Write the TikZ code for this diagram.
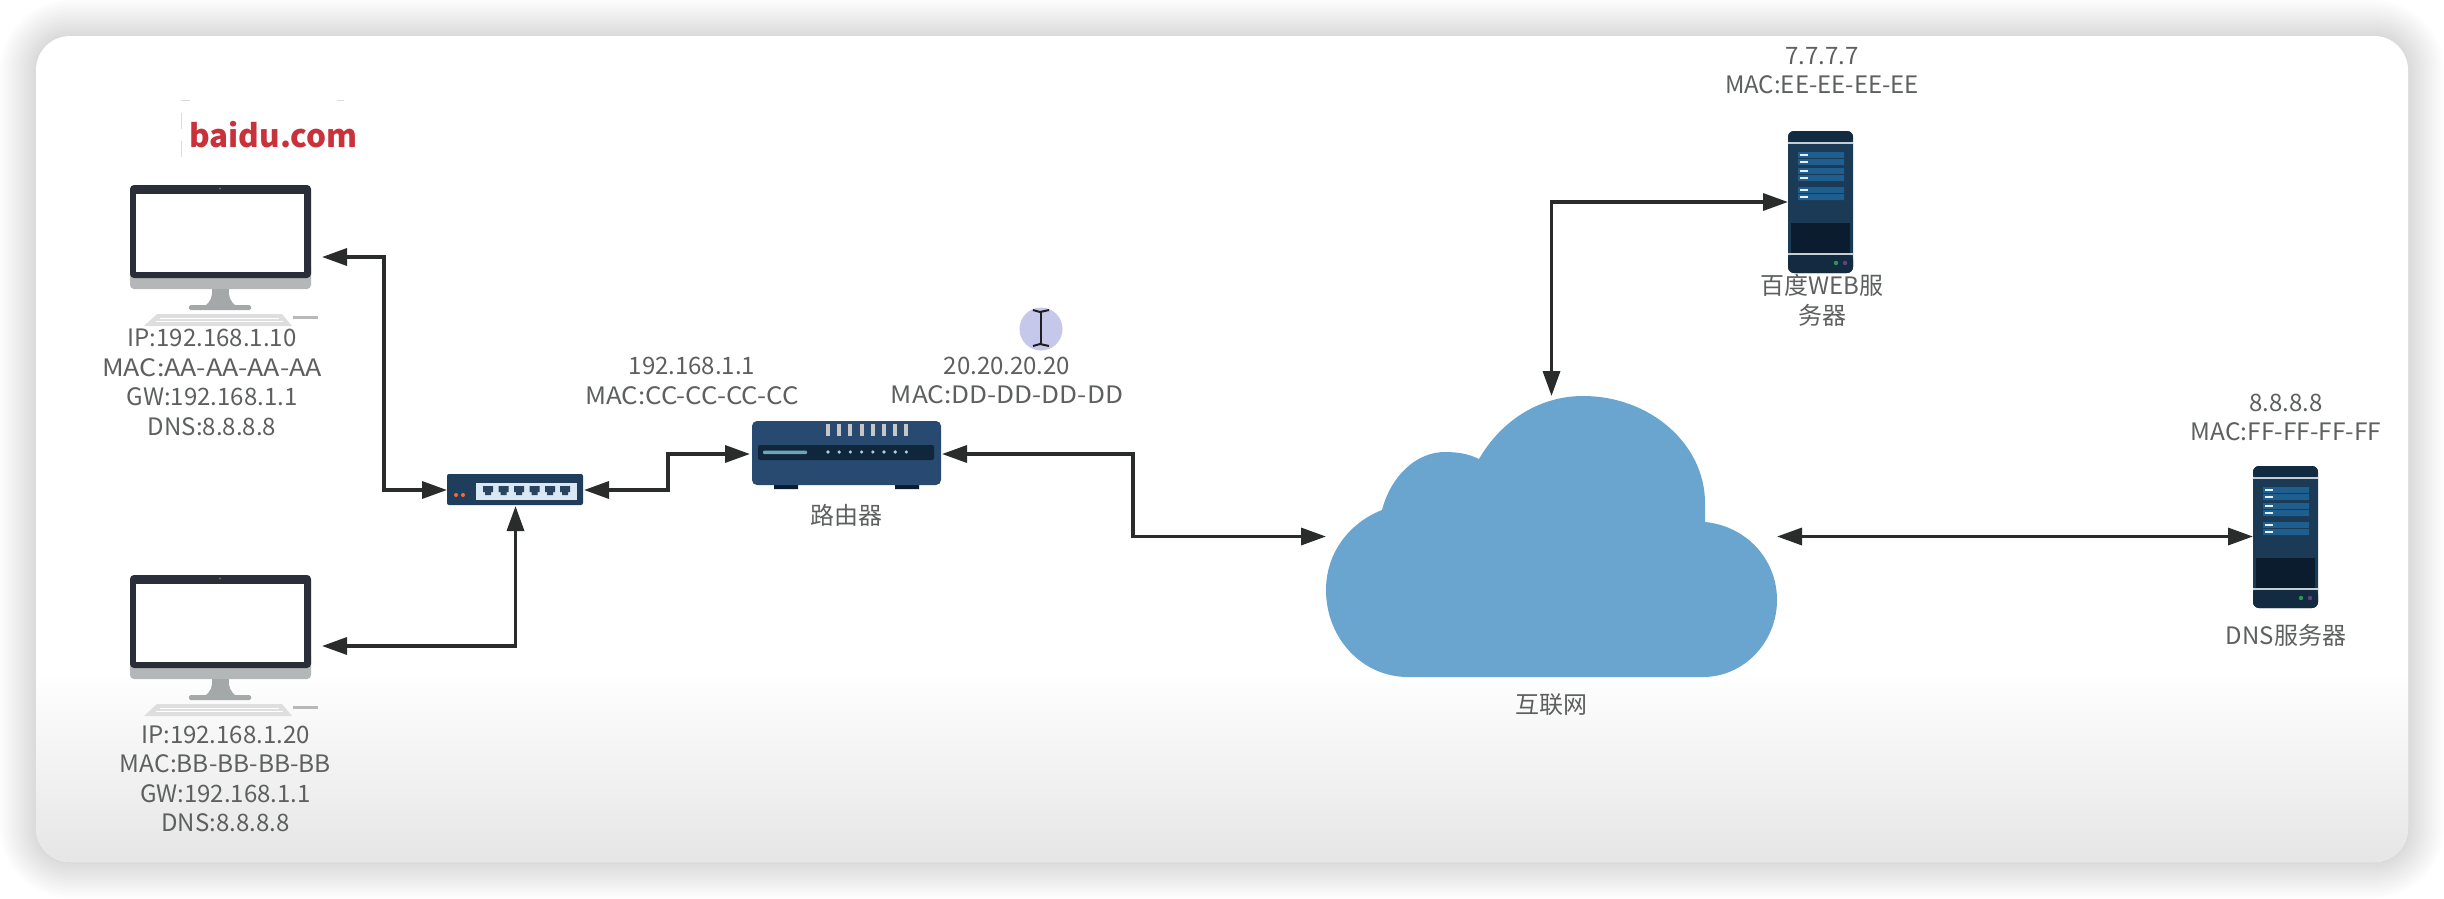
\documentclass[tikz,border=0pt]{standalone}
\usepackage{fontspec}
\setmainfont{Noto Sans CJK SC}
\usetikzlibrary{arrows.meta,calc}
\definecolor{txt}{HTML}{5E6060}
\definecolor{linkc}{HTML}{2A2C2C}
\definecolor{framec}{HTML}{2A2E38}
\definecolor{chinc}{HTML}{B4B7B7}
\definecolor{navy}{HTML}{1A3A55}
\definecolor{navyd}{HTML}{132B40}
\definecolor{navyk}{HTML}{0A1C2E}
\definecolor{barc}{HTML}{1F5F90}
\definecolor{routerc}{HTML}{284A70}
\definecolor{cloudc}{HTML}{69A5CF}
\definecolor{portc}{HTML}{D9E8F5}
\definecolor{rbar}{HTML}{6FA5B5}
\definecolor{rdot}{HTML}{A8D0DC}
\definecolor{curc}{HTML}{C5C8EA}
\definecolor{bdred}{HTML}{C9323A}
\newcommand{\hwide}[2]{\scalebox{#1}[1]{#2}}
\tikzset{
  x=1pt,y=-1pt,
  lbl/.style={inner sep=0pt,text=txt,align=center,font=\fontsize{24}{29.5}\selectfont},
  devbox/.style={inner sep=0pt,outer sep=0pt,minimum width=#1},
  link/.style={draw=linkc,line width=3.4pt,{Triangle[length=25pt,width=17pt]}-{Triangle[length=25pt,width=17pt]}},
}
\newcommand{\pcicon}[2]{%
  \begin{scope}[shift={(#1,#2)}]
    \fill[chinc,rounded corners=4pt] (130,262) rectangle (311,289);
    \fill[framec,rounded corners=4pt] (130,185) -- (311,185) -- (311,278) -- (130,278) -- cycle;
    \fill[white] (136,194) rectangle (304,272);
    \fill[black!60] (220,188.5) circle (1.2pt);
    \fill[chinc!92!black] (212,289) .. controls (213,297) and (210,302) .. (205,306) -- (236,306) .. controls (231,302) and (228,297) .. (229,289) -- cycle;
    \fill[chinc!92!black,rounded corners=1.5pt] (189,305) rectangle (251,310);
    \fill[black!13] (157,314) -- (282,314) -- (292,326) -- (144,326) -- cycle;
    \draw[white,line width=1pt] (160,318) -- (279,318) (156,321.5) -- (283,321.5);
    \fill[black!28] (293,316) rectangle (318,319);
  \end{scope}}
\newcommand{\srvicon}[2]{%
  \begin{scope}[shift={(#1,#2)}]
    \fill[navy,rounded corners=6pt] (0,0) rectangle (65,142);
    \fill[navyd,rounded corners=6pt] (0,0) rectangle (65,12);
    \fill[navyd,rounded corners=6pt] (0,123) rectangle (65,142);
    \fill[navyk] (3,92) rectangle (62,123);
    \draw[white!75!navy,line width=1.2pt] (0,12) -- (65,12) (0,123) -- (65,123);
    \fill[barc] (10,21) rectangle (56,34) (10,37) rectangle (56,50) (10,56) rectangle (56,69);
    \draw[navy,line width=.8pt] (10,27.5) -- (56,27.5) (10,43.5) -- (56,43.5) (10,62.5) -- (56,62.5);
    \foreach \ty in {24,31,40,47,59,66}{\draw[white!90!barc,line width=1.4pt] (12,\ty) -- (20,\ty);}
    \fill[green!35!navy!85!white] (48,132) circle (2.2pt);
    \fill[violet!45!navy!85!white] (57,132) circle (2.2pt);
  \end{scope}}
\begin{document}
\begin{tikzpicture}
\useasboundingbox (0,0) rectangle (2444,898);
% window, shadow and bottom gradient
\fill[white] (0,0) rectangle (2444,898);
\foreach \i in {0,2,...,36}{
  \fill[black,opacity=.0095,rounded corners={34pt+\i*1pt}] ({36-\i},{36-\i}) rectangle ({2408+\i},{862+\i});
}
\fill[white,rounded corners=34pt] (36,36) rectangle (2408,862);
\begin{scope}
  \clip[rounded corners=34pt] (36,36) rectangle (2408,862);
  \shade[top color=white,bottom color=black!10!white] (36,670) rectangle (2408,863);
\end{scope}
% device placeholders
\node[devbox=192pt,minimum height=142pt] (pc1) at (226,257) {};
\node[devbox=192pt,minimum height=136pt] (pc2) at (226,646) {};
\node[devbox=137pt,minimum height=32pt] (sw) at (515.5,490) {};
\node[devbox=192pt,minimum height=66pt] (rt) at (846,454) {};
\node[devbox=451pt,minimum height=281pt] (cloud) at (1551.5,536.5) {};
\node[devbox=65pt,minimum height=142pt] (web) at (1820.5,202) {};
\node[devbox=66pt,minimum height=141pt] (dns) at (2286,536.5) {};
% icons
\pcicon{0}{0}
\pcicon{0}{390}
% switch
\fill[navy!75!routerc,rounded corners=2pt] (447,474) rectangle (583,505);
\fill[portc] (476,483) rectangle (577,500);
\foreach \px in {488,503.5,519,534.5,550,565}{
  \fill[navy!85!gray] (\px-5,486) rectangle (\px+5,492) (\px-3,492) rectangle (\px+3,495);
}
\fill[red!50!orange!80!white] (456,495) circle (2pt) (463,495) circle (2pt);
% router
\fill[navyk] (774,484) rectangle (798,489) (895,484) rectangle (919,489);
\fill[routerc,rounded corners=5pt] (752,421) rectangle (941,485);
\fill[navyd!70!navyk,rounded corners=2pt] (758,445) rectangle (934,460);
\fill[rbar,rounded corners=1pt] (763,450.5) rectangle (807,454);
\foreach \k in {0,...,7}{
  \fill[black!22] ({828+11.2*\k-2},424) rectangle ({828+11.2*\k+2},436);
  \fill[rdot] ({828+11.2*\k},452) circle (1.8pt);
}
% cloud
\fill[cloudc] (1408,677)
  .. controls (1362,677) and (1326,638) .. (1326,590)
  .. controls (1326,553) and (1349,523) .. (1382,510)
  .. controls (1391,476) and (1416,452) .. (1445,452)
  .. controls (1458,452) and (1469,454) .. (1479,459)
  .. controls (1501,421) and (1539,396) .. (1583,396)
  .. controls (1650,396) and (1705,444) .. (1705,503)
  -- (1705,522)
  .. controls (1746,526) and (1777,559) .. (1777,600)
  .. controls (1777,642) and (1744,677) .. (1703,677)
  -- cycle;
% servers
\srvicon{1788}{131}
\srvicon{2253}{466}
% faint marks and cursor
\draw[black!14,line width=1pt,dash pattern=on 16pt off 12pt] (181,157) -- (181,100) -- (190,100);
\draw[black!14,line width=1pt] (337,100) -- (344,100);
\fill[curc] (1041,329) circle (21.5pt);
\draw[black!88,line width=2.6pt] (1041,312) -- (1041,344);
\draw[black!88,line width=2pt] (1033,310) -- (1040,312) -- (1049,310) (1033,346) -- (1040,344) -- (1049,346);
% connectors
\draw[link] (pc1.east) -- ++(62,0) |- (sw.west);
\draw[link] (pc2.east) -| (sw.south);
\draw[link] (sw.east) -- ++(84,0) |- (rt.west);
\draw[link] (rt.east) -- ++(191,0) |- (cloud.west);
\draw[link] (cloud.north) |- (web.west);
\draw[link] (cloud.east) -- (dns.west);
% labels
\node[inner sep=0pt,text=bdred,font=\fontsize{31.5}{34}\bfseries\selectfont] (bd) at (273.5,135) {baidu.com};
\node[lbl] (t1) at (212,382.5) {IP:192.168.1.10\\\hwide{1.115}{MAC:AA-AA-AA-AA}\\GW:192.168.1.1\\DNS:8.8.8.8};
\node[lbl] (t2) at (225.5,779) {IP:192.168.1.20\\\hwide{1.02}{MAC:BB-BB-BB-BB}\\GW:192.168.1.1\\DNS:8.8.8.8};
\node[lbl] (t3) at (692,381) {192.168.1.1\\\hwide{1.08}{MAC:CC-CC-CC-CC}};
\node[lbl] (t4) at (1007,380.5) {20.20.20.20\\\hwide{1.09}{MAC:DD-DD-DD-DD}};
\node[lbl] (t5) at (846,515) {路由器};
\node[lbl] (t6) at (1551,705) {互联网};
\node[lbl] (t7) at (1822,70.5) {7.7.7.7\\\hwide{1.0}{MAC:EE-EE-EE-EE}};
\node[lbl] (t8) at (1822,300.5) {百度WEB服\\务器};
\node[lbl] (t9) at (2286,417.5) {8.8.8.8\\\hwide{1.02}{MAC:FF-FF-FF-FF}};
\node[lbl] (t10) at (2286,635) {DNS服务器};
\end{tikzpicture}
\end{document}
